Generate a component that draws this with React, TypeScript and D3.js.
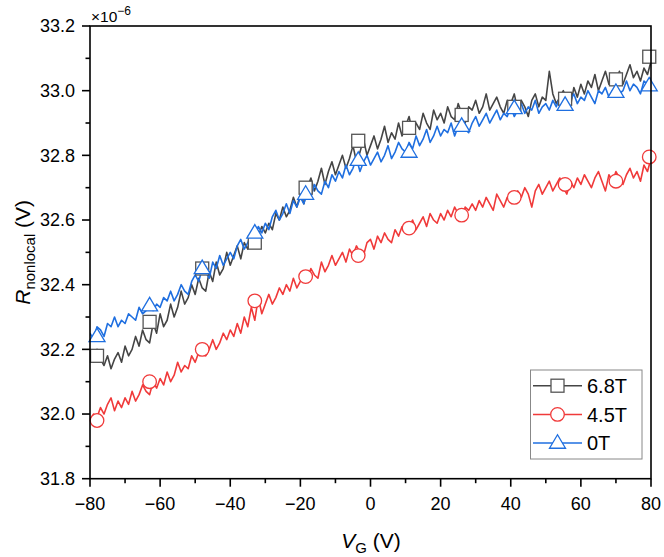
import React from "react";
import * as d3 from "d3";

const vg: number[] = d3.range(-80, 81, 1);

const gray68: number[] = [
  32.19, 32.16, 32.20, 32.17, 32.15, 32.18, 32.14, 32.17, 32.19, 32.16,
  32.21, 32.18, 32.20, 32.24, 32.21, 32.26, 32.23, 32.22, 32.28, 32.25,
  32.31, 32.27, 32.29, 32.34, 32.30, 32.33, 32.38, 32.34, 32.36, 32.40,
  32.37, 32.42, 32.39, 32.38, 32.44, 32.41, 32.47, 32.43, 32.45, 32.50,
  32.46, 32.49, 32.52, 32.48, 32.53, 32.51, 32.56, 32.52, 32.55, 32.58,
  32.56, 32.59, 32.57, 32.62, 32.60, 32.64, 32.61, 32.63, 32.67, 32.64,
  32.68, 32.65, 32.70, 32.73, 32.69, 32.72, 32.76, 32.71, 32.75, 32.78,
  32.74, 32.77, 32.80, 32.76, 32.79, 32.83, 32.78, 32.81, 32.85, 32.80,
  32.83, 32.86, 32.82, 32.85, 32.89, 32.84, 32.87, 32.85, 32.90, 32.86,
  32.89, 32.92, 32.87, 32.90, 32.88, 32.93, 32.90, 32.88, 32.94, 32.91,
  32.93, 32.90, 32.95, 32.92, 32.91, 32.96, 32.93, 32.90, 32.95, 32.94,
  32.97, 32.93, 32.95, 32.99, 32.94, 32.96, 32.98, 32.95, 32.93, 32.97,
  32.96, 32.99, 32.94, 32.97, 32.95, 32.92, 32.97, 32.99, 32.95, 32.98,
  32.97, 33.06, 32.99, 32.96, 32.98, 33.00, 32.97, 32.95, 33.01, 32.98,
  33.02, 32.99, 33.03, 33.01, 33.05, 33.00, 33.03, 33.06, 33.02, 33.04,
  33.03, 33.06, 33.02, 33.05, 33.08, 33.04, 33.06, 33.03, 33.07, 33.05, 33.09,
];

const red45: number[] = [
  31.98, 32.00, 31.99, 32.02, 32.00, 32.03, 32.05, 32.01, 32.04, 32.02,
  32.05, 32.03, 32.07, 32.04, 32.06, 32.09, 32.07, 32.06, 32.10, 32.08,
  32.11, 32.09, 32.13, 32.10, 32.12, 32.16, 32.13, 32.15, 32.14, 32.18,
  32.16, 32.19, 32.21, 32.18, 32.20, 32.23, 32.20, 32.22, 32.25, 32.23,
  32.26, 32.24, 32.28, 32.25, 32.30, 32.27, 32.33, 32.29, 32.36, 32.31,
  32.34, 32.37, 32.34, 32.36, 32.39, 32.37, 32.40, 32.38, 32.42, 32.39,
  32.41, 32.44, 32.42, 32.45, 32.43, 32.42, 32.47, 32.44, 32.46, 32.49,
  32.46, 32.48, 32.50, 32.47, 32.51, 32.49, 32.52, 32.50, 32.49, 32.53,
  32.54, 32.51, 32.55, 32.53, 32.56, 32.54, 32.53, 32.57, 32.55, 32.58,
  32.56, 32.58, 32.60, 32.57, 32.59, 32.61, 32.58, 32.62, 32.60, 32.59,
  32.62, 32.60, 32.63, 32.61, 32.64, 32.62, 32.60, 32.64, 32.63, 32.65,
  32.63, 32.66, 32.64, 32.67, 32.65, 32.63, 32.68, 32.66, 32.64, 32.67,
  32.68, 32.66, 32.69, 32.67, 32.70, 32.68, 32.64, 32.69, 32.71, 32.68,
  32.70, 32.72, 32.69, 32.71, 32.73, 32.70, 32.68, 32.72, 32.70, 32.73,
  32.71, 32.74, 32.72, 32.70, 32.73, 32.75, 32.72, 32.69, 32.74, 32.72,
  32.75, 32.73, 32.71, 32.74, 32.76, 32.73, 32.75, 32.72, 32.77, 32.75, 32.79,
];

const blue0: number[] = [
  32.25, 32.23, 32.27, 32.26, 32.24, 32.28, 32.27, 32.30, 32.27, 32.29,
  32.28, 32.31, 32.30, 32.29, 32.33, 32.31, 32.32, 32.35, 32.32, 32.34,
  32.33, 32.36, 32.35, 32.38, 32.35, 32.37, 32.40, 32.38, 32.37, 32.41,
  32.43, 32.41, 32.45, 32.44, 32.42, 32.47, 32.45, 32.49, 32.46, 32.48,
  32.50, 32.48, 32.52, 32.54, 32.51, 32.53, 32.56, 32.55, 32.58, 32.56,
  32.59, 32.57, 32.61, 32.63, 32.60, 32.62, 32.65, 32.62, 32.66, 32.64,
  32.67, 32.65, 32.69, 32.67, 32.71, 32.69, 32.68, 32.72, 32.70, 32.74,
  32.72, 32.75, 32.73, 32.77, 32.74, 32.76, 32.79, 32.75, 32.78, 32.80,
  32.77, 32.79, 32.81, 32.78, 32.80, 32.83, 32.79, 32.81, 32.84, 32.82,
  32.81, 32.84, 32.82, 32.86, 32.83, 32.85, 32.88, 32.84, 32.86, 32.89,
  32.86, 32.88, 32.87, 32.90, 32.86, 32.89, 32.91, 32.88, 32.87, 32.90,
  32.92, 32.89, 32.91, 32.93, 32.90, 32.92, 32.94, 32.91, 32.93, 32.92,
  32.95, 32.92, 32.94, 32.96, 32.93, 32.95, 32.94, 32.97, 32.93, 32.95,
  32.96, 32.94, 32.97, 32.95, 32.98, 32.96, 32.94, 32.97, 32.99, 32.96,
  32.98, 32.97, 33.00, 32.98, 32.96, 33.00, 32.99, 33.01, 32.98, 33.00,
  33.01, 32.99, 33.00, 33.03, 33.00, 33.02, 33.01, 32.99, 33.03, 33.02, 33.04,
];

const markerVg: number[] = [-78, -63, -48, -33, -18.5, -3.5, 11, 26, 41, 55.5, 70, 79.5];
const grayMarks: number[] = [32.18, 32.285, 32.45, 32.53, 32.70, 32.845, 32.885, 32.925, 32.95, 32.975, 33.035, 33.105];
const redMarks: number[] = [31.98, 32.10, 32.20, 32.35, 32.425, 32.49, 32.575, 32.615, 32.67, 32.71, 32.72, 32.795];
const blueMarks: number[] = [32.24, 32.335, 32.45, 32.56, 32.68, 32.785, 32.81, 32.89, 32.945, 32.955, 32.995, 33.015];

const xTicks: number[] = [-80, -60, -40, -20, 0, 20, 40, 60, 80];
const yTicks: number[] = [31.8, 32.0, 32.2, 32.4, 32.6, 32.8, 33.0, 33.2];
const legendLabels: string[] = ["6.8T", "4.5T", "0T"];

const FONT = "'Liberation Sans', Arial, Helvetica, sans-serif";
const L = 90, R = 651, T = 26, B = 478.7;

type Shape = "square" | "circle" | "triangle";

function Marker({ x, y, shape, color }: { x: number; y: number; shape: Shape; color: string }) {
  if (shape === "square") {
    return <rect x={x - 6.5} y={y - 6.5} width={13} height={13} fill="white" stroke={color} strokeWidth={1.3} />;
  }
  if (shape === "circle") {
    return <circle cx={x} cy={y} r={6.8} fill="white" stroke={color} strokeWidth={1.3} />;
  }
  const h = 13.5, w = 16;
  const pts = `${x},${y - h * 0.62} ${x - w / 2},${y + h * 0.38} ${x + w / 2},${y + h * 0.38}`;
  return <polygon points={pts} fill="white" stroke={color} strokeWidth={1.3} />;
}

export default function App() {
  const x = d3.scaleLinear().domain([-80, 80]).range([L, R]);
  const y = d3.scaleLinear().domain([31.8, 33.2]).range([B, T]);
  const line = d3.line<number>().x((_, i) => x(vg[i])).y((d) => y(d));

  const series = [
    { data: gray68, marks: grayMarks, color: "#454545", mcolor: "#555555", shape: "square" as Shape },
    { data: red45, marks: redMarks, color: "#f03a3a", mcolor: "#f03a3a", shape: "circle" as Shape },
    { data: blue0, marks: blueMarks, color: "#1f6fe0", mcolor: "#1f6fe0", shape: "triangle" as Shape },
  ];

  const xMinor = d3.range(-70, 80, 20);
  const yMinor = d3.range(31.9, 33.2, 0.2);

  return (
    <svg width={664} height={557} style={{ position: "absolute", left: 0, top: 0 }} fontFamily={FONT}>
      <rect width={664} height={557} fill="white" />
      <defs>
        <clipPath id="plotclip">
          <rect x={L} y={T} width={R - L} height={B - T} />
        </clipPath>
      </defs>
      <g clipPath="url(#plotclip)">
        {series.map((s, k) => (
          <g key={k}>
            <path d={line(s.data) || ""} fill="none" stroke={s.color} strokeWidth={1.6} strokeLinejoin="round" />
          </g>
        ))}
      </g>
      {series.map((s, k) => (
        <g key={"m" + k}>
          {s.marks.map((v, i) => (
            <Marker key={i} x={x(markerVg[i])} y={y(v)} shape={s.shape} color={s.mcolor} />
          ))}
        </g>
      ))}
      {/* frame */}
      <rect x={L} y={T} width={R - L} height={B - T} fill="none" stroke="black" strokeWidth={1.6} />
      {/* x ticks */}
      {xTicks.map((t) => (
        <g key={"xt" + t}>
          <line x1={x(t)} x2={x(t)} y1={B} y2={B + 8} stroke="black" strokeWidth={1.6} />
          <text x={x(t)} y={B + 31} fontSize={18} textAnchor="middle">{t < 0 ? "\u2212" + Math.abs(t) : t}</text>
        </g>
      ))}
      {xMinor.map((t) => (
        <line key={"xm" + t} x1={x(t)} x2={x(t)} y1={B} y2={B + 4.5} stroke="black" strokeWidth={1.6} />
      ))}
      {/* y ticks */}
      {yTicks.map((t) => (
        <g key={"yt" + t}>
          <line x1={L - 8} x2={L} y1={y(t)} y2={y(t)} stroke="black" strokeWidth={1.6} />
          <text x={L - 15} y={y(t)} dy="0.35em" fontSize={18} textAnchor="end">{t.toFixed(1)}</text>
        </g>
      ))}
      {yMinor.map((t) => (
        <line key={"ym" + t.toFixed(1)} x1={L - 4.5} x2={L} y1={y(t)} y2={y(t)} stroke="black" strokeWidth={1.6} />
      ))}
      {/* multiplier */}
      <text x={91} y={22} fontSize={15.5}>
        ×10<tspan dy={-7} fontSize={12}>−6</tspan>
      </text>
      {/* axis labels */}
      <text x={371} y={548} fontSize={21} textAnchor="middle">
        <tspan fontStyle="italic">V</tspan>
        <tspan dy={5} fontSize={15}>G</tspan>
        <tspan dy={-5}> (V)</tspan>
      </text>
      <text transform={`translate(30, ${(T + B) / 2}) rotate(-90)`} fontSize={21} textAnchor="middle">
        <tspan fontStyle="italic">R</tspan>
        <tspan dy={5} fontSize={15}>nonlocal</tspan>
        <tspan dy={-5}> (V)</tspan>
      </text>
      {/* legend */}
      <rect x={530.5} y={370} width={111.5} height={89} fill="white" stroke="#888" strokeWidth={1} />
      {series.map((s, k) => {
        const ly = 385.7 + k * 28.7;
        return (
          <g key={"lg" + k}>
            <line x1={533} x2={582} y1={ly} y2={ly} stroke={s.color} strokeWidth={1.5} />
            <Marker x={557.5} y={ly} shape={s.shape} color={s.mcolor} />
            <text x={587} y={ly} dy="0.36em" fontSize={20}>{legendLabels[k]}</text>
          </g>
        );
      })}
    </svg>
  );
}
